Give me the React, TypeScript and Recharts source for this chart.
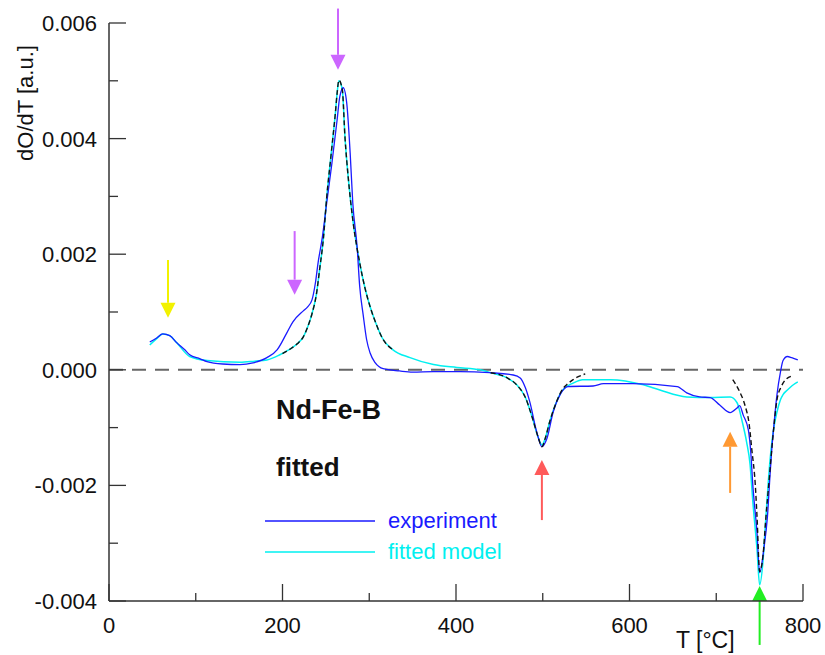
import { LineChart, Line, XAxis, YAxis, ReferenceLine, Legend } from "recharts";

// experiment (blue)
const expT = [
  47, 55, 62, 70, 78, 87, 93, 105, 113, 131,
  151, 166, 182, 194, 205, 212, 224, 229, 234, 238,
  241, 246, 251, 257, 263, 266, 270, 274, 278, 281,
  286, 289, 293, 297, 301, 307, 316, 335, 350, 374,
  405, 439, 466, 474, 480, 485, 493, 499, 505, 512,
  520, 529, 558, 570, 604, 655, 666, 681, 693, 704,
  716, 724, 727, 731, 737, 740, 742, 747, 750, 755,
  759, 762, 764, 767, 770, 774, 777, 782, 787, 794,
];
const expV = [
  0.00048, 0.00055, 0.00062, 0.00059, 0.00047, 0.00035, 0.00026, 0.00019, 0.00014, 0.0001,
  0.00009, 0.00012, 0.00021, 0.00035, 0.00064, 0.00083, 0.00102, 0.00109, 0.00121, 0.00151,
  0.00185, 0.0023, 0.00289, 0.00358, 0.00433, 0.00472, 0.00488, 0.00462, 0.00375, 0.00289,
  0.00213, 0.00144, 0.00095, 0.00052, 0.00029, 0.00012, 0.00002, -0.00002, -0.00004, -0.00003,
  -0.00003, -0.00005, -0.00009, -0.00014, -0.00031, -0.00055, -0.00107, -0.00133, -0.00118, -0.00073,
  -0.00043, -0.00029, -0.00028, -0.00024, -0.00024, -0.00029, -0.0004, -0.00047, -0.00048, -0.00061,
  -0.00074, -0.00066, -0.00062, -0.00078, -0.00104, -0.00147, -0.00196, -0.00282, -0.00351, -0.00308,
  -0.00254, -0.00182, -0.00138, -0.00087, -0.00043, -0.00004, 0.00016, 0.00023, 0.00021, 0.00017,
];

// fitted model (cyan)
const fitT = [
  47, 55, 62, 70, 78, 93, 113, 151, 168, 182,
  197, 209, 217, 224, 229, 234, 239, 243, 247, 251,
  256, 261, 263, 265, 269, 272, 276, 281, 289, 295,
  301, 307, 315, 327, 347, 374, 401, 428, 440, 459,
  470, 480, 488, 495, 499, 503, 508, 516, 523, 535,
  546, 578, 616, 635, 666, 693, 716, 724, 730, 735,
  739, 742, 747, 750, 754, 757, 762, 767, 770, 774,
  777, 782, 787, 794,
];
const fitV = [
  0.00043, 0.00054, 0.00062, 0.00059, 0.00047, 0.00023, 0.00016, 0.00013, 0.00015, 0.00017,
  0.00026, 0.00036, 0.00045, 0.00057, 0.00074, 0.00097, 0.0013, 0.00176, 0.00225, 0.00299,
  0.00372, 0.00445, 0.00479, 0.005, 0.00484, 0.00403, 0.00329, 0.0026, 0.00185, 0.00142,
  0.00109, 0.00083, 0.00055, 0.00035, 0.00021, 0.00009, 0.00004, 0.0, -0.00005, -0.00014,
  -0.00026, -0.00048, -0.00083, -0.00118, -0.0013, -0.00118, -0.0009, -0.00055, -0.00035, -0.00023,
  -0.00017, -0.00017, -0.00026, -0.00035, -0.00047, -0.00048, -0.00047, -0.00057, -0.0009, -0.00125,
  -0.00164, -0.00225, -0.00311, -0.00372, -0.00329, -0.0026, -0.00156, -0.00095, -0.00073, -0.00052,
  -0.00043, -0.00035, -0.00028, -0.00021,
];

// single-peak fits (black dashed), null = gap between segments
const dashT = [
  200, 209, 217, 224, 229, 234, 239, 243, 247, 251, 256, 261, 263, 265, 269, 272, 276, 281, 289, 295, 301, 307, 315, 327,
  380,
  440, 459, 470, 480, 488, 495, 499, 503, 508, 516, 523, 529, 535, 541, 549,
  650,
  719, 727, 733, 738, 741, 745, 747, 750, 754, 757, 761, 765, 770, 775, 780, 789,
];
const dashV = [
  0.00028, 0.00036, 0.00045, 0.00057, 0.00074, 0.00097, 0.0013, 0.00176, 0.00225, 0.00299, 0.00372, 0.00445,
  0.00479, 0.00501, 0.00484, 0.00403, 0.00329, 0.0026, 0.00185, 0.00142, 0.00109, 0.00083, 0.00055, 0.00035,
  null,
  -0.00005, -0.00014, -0.00026, -0.00048, -0.00083, -0.00118, -0.00133, -0.00118, -0.0009, -0.00055, -0.00033,
  -0.00024, -0.00017, -0.00012, -0.00007,
  null,
  -0.00017, -0.00038, -0.00061, -0.00095, -0.00138, -0.00199, -0.00254, -0.00349, -0.0032, -0.0026, -0.0019,
  -0.00121, -0.00052, -0.00029, -0.00017, -0.0001,
];

const xTicks = [0, 100, 200, 300, 400, 500, 600, 700, 800];
const yTicks = [-0.004, -0.003, -0.002, -0.001, 0, 0.001, 0.002, 0.003, 0.004, 0.005, 0.006];

// arrows: x position, tail value, tip value
const arrows = [
  { x: 68, from: 0.0019, to: 0.0009, color: "#f2f200" },
  { x: 214, from: 0.0024, to: 0.0013, color: "#cc66ff" },
  { x: 264, from: 0.00625, to: 0.00519, color: "#cc66ff" },
  { x: 499, from: -0.0026, to: -0.00156, color: "#ff5a5a" },
  { x: 716, from: -0.00213, to: -0.00107, color: "#ff9933" },
  { x: 750, from: -0.00476, to: -0.00374, color: "#22ee22" },
];

const legendItems = [
  { name: "experiment", color: "#1a1aff" },
  { name: "fitted model", color: "#00f0f0" },
];

const expData = expT.map((t, i) => ({ t, v: expV[i] }));
const fitData = fitT.map((t, i) => ({ t, v: fitV[i] }));
const dashData = dashT.map((t, i) => ({ t, v: dashV[i] }));

const FONT = "'Liberation Sans', Arial, sans-serif";
const AXIS = "#333";

const isMajorX = (v: number) => v % 200 === 0;
const isMajorY = (v: number) => Math.round(v * 1000) % 2 === 0;

const LeftTick = ({ x, y, payload }: any) => {
  const major = isMajorY(payload.value);
  return (
    <g>
      <line x1={x} x2={x + (major ? 17 : 9)} y1={y} y2={y} stroke={AXIS} strokeWidth={1.3} />
      {major && (
        <text x={x - 12} y={y + 8} textAnchor="end" fontFamily={FONT} fontSize={22} fill="#111">
          {payload.value.toFixed(3)}
        </text>
      )}
    </g>
  );
};

const RightTick = ({ x, y, payload }: any) => {
  const major = isMajorY(payload.value);
  return <line x1={x} x2={x - (major ? 17 : 9)} y1={y} y2={y} stroke={AXIS} strokeWidth={1.3} />;
};

const BottomTick = ({ x, y, payload }: any) => {
  const major = isMajorX(payload.value);
  return (
    <g>
      <line x1={x} x2={x} y1={y} y2={y - (major ? 17 : 8)} stroke={AXIS} strokeWidth={1.3} />
      {major && (
        <text x={x} y={y + 32} textAnchor="middle" fontFamily={FONT} fontSize={22} fill="#111">
          {payload.value}
        </text>
      )}
    </g>
  );
};

const TopTick = ({ x, y, payload }: any) => {
  const major = isMajorX(payload.value);
  return <line x1={x} x2={x} y1={y} y2={y + (major ? 17 : 8)} stroke={AXIS} strokeWidth={1.3} />;
};

const arrowShape = (color: string) => (props: any) => {
  const { x1, y1, x2, y2 } = props;
  const dir = y2 > y1 ? 1 : -1;
  const head = 15;
  return (
    <g>
      <line x1={x1} y1={y1} x2={x2} y2={y2 - dir * head} stroke={color} strokeWidth={2} />
      <polygon
        points={`${x2},${y2} ${x2 - 7.5},${y2 - dir * head} ${x2 + 7.5},${y2 - dir * head}`}
        fill={color}
      />
    </g>
  );
};

const LegendBox = () => (
  <svg width={260} height={70}>
    {legendItems.map((it, i) => (
      <g key={it.name}>
        <line x1={0} x2={110} y1={16 + i * 31} y2={16 + i * 31} stroke={it.color} strokeWidth={1.4} />
        <text x={123} y={23 + i * 31} fontFamily={FONT} fontSize={22} fill={it.color}>
          {it.name}
        </text>
      </g>
    ))}
  </svg>
);

export default function App() {
  return (
    <div style={{ position: "absolute", left: 0, top: 0, width: 825, height: 655, background: "#fff" }}>
      <LineChart width={825} height={655} margin={{ top: 23, right: 22, bottom: 24, left: 0 }}>
        <XAxis
          type="number"
          dataKey="t"
          domain={[0, 800]}
          ticks={xTicks}
          interval={0}
          height={30}
          tickSize={0}
          tickMargin={0}
          tickLine={false}
          tick={<BottomTick />}
          axisLine={{ stroke: AXIS, strokeWidth: 1.5 }}
          allowDataOverflow
        />
        <XAxis
          xAxisId="top"
          orientation="top"
          type="number"
          dataKey="t"
          domain={[0, 800]}
          ticks={xTicks}
          interval={0}
          height={0}
          tickSize={0}
          tickMargin={0}
          tickLine={false}
          tick={<TopTick />}
          axisLine={{ stroke: AXIS, strokeWidth: 1.5 }}
        />
        <YAxis
          type="number"
          domain={[-0.004, 0.006]}
          ticks={yTicks}
          interval={0}
          width={109}
          tickSize={0}
          tickMargin={0}
          tickLine={false}
          tick={<LeftTick />}
          axisLine={{ stroke: AXIS, strokeWidth: 1.5 }}
          allowDataOverflow
        />
        <YAxis
          yAxisId="right"
          orientation="right"
          type="number"
          domain={[-0.004, 0.006]}
          ticks={yTicks}
          interval={0}
          width={0}
          tickSize={0}
          tickMargin={0}
          tickLine={false}
          tick={<RightTick />}
          axisLine={{ stroke: AXIS, strokeWidth: 1.5 }}
        />
        <ReferenceLine y={0} stroke="#666" strokeWidth={2} strokeDasharray="14 9" />
        <Line
          data={fitData}
          dataKey="v"
          type="monotone"
          stroke="#00f0f0"
          strokeWidth={1.5}
          dot={false}
          isAnimationActive={false}
          name="fitted model"
        />
        <Line
          data={expData}
          dataKey="v"
          type="monotone"
          stroke="#1a1aff"
          strokeWidth={1.3}
          dot={false}
          isAnimationActive={false}
          name="experiment"
        />
        <Line
          data={dashData}
          dataKey="v"
          type="monotone"
          stroke="#111"
          strokeWidth={1.4}
          strokeDasharray="5 3"
          dot={false}
          isAnimationActive={false}
          legendType="none"
          name="fit"
        />
        {arrows.map((a, i) => (
          <ReferenceLine
            key={i}
            segment={[
              { x: a.x, y: a.from },
              { x: a.x, y: a.to },
            ]}
            ifOverflow="visible"
            shape={arrowShape(a.color)}
          />
        ))}
        <Legend
          layout="horizontal"
          verticalAlign="middle"
          align="center"
          wrapperStyle={{ left: 265, top: 505, width: 260, height: 70 }}
          content={() => <LegendBox />}
        />
      </LineChart>
      <svg
        width={825}
        height={655}
        style={{ position: "absolute", left: 0, top: 0, pointerEvents: "none" }}
      >
        <text
          x={33}
          y={103}
          transform="rotate(-90, 33, 103)"
          textAnchor="middle"
          fontFamily={FONT}
          fontSize={22}
          fill="#111"
        >
          dO/dT [a.u.]
        </text>
        <text x={676} y={648} fontFamily={FONT} fontSize={23} fill="#111">
          T [°C]
        </text>
        <text x={276} y={419} fontFamily={FONT} fontSize={27} fontWeight="bold" fill="#111">
          Nd-Fe-B
        </text>
        <text x={276} y={476} fontFamily={FONT} fontSize={26} fontWeight="bold" fill="#111">
          fitted
        </text>
      </svg>
    </div>
  );
}
